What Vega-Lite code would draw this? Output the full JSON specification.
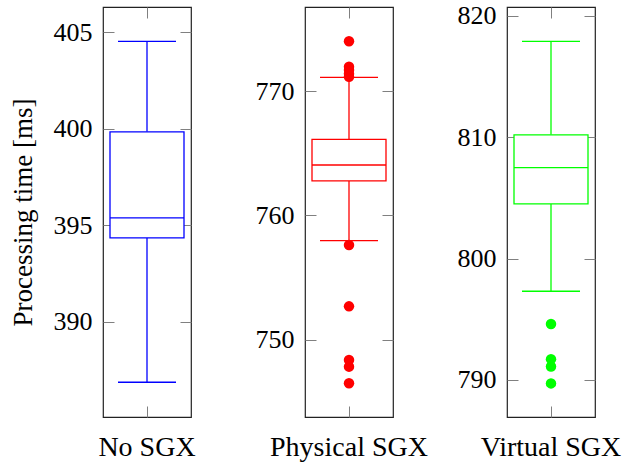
{
  "$schema": "https://vega.github.io/schema/vega-lite/v6.json",
  "autosize": {"type": "pad"},
  "padding": {"left": 8, "top": 2, "right": 4, "bottom": 2},
  "bounds": "flush",
  "spacing": 114,
  "config": {
    "view": {"stroke": "#222222", "strokeWidth": 1.2},
    "axis": {
      "grid": false, "domain": false,
      "tickColor": "#808080", "tickWidth": 1, "tickSize": -11,
      "labelFont": "'Liberation Serif', 'DejaVu Serif', serif", "labelFontSize": 26, "labelColor": "black",
      "titleFont": "'Liberation Serif', 'DejaVu Serif', serif", "titleFontSize": 27, "titleFontWeight": "normal", "titleColor": "black"
    }
  },
  "datasets": {
    "stats": [
      {"group": "No SGX", "lower": 386.86, "q1": 394.34, "median": 395.38, "q3": 399.84, "upper": 404.53},
      {"group": "Physical SGX", "lower": 757.96, "q1": 762.77, "median": 764.05, "q3": 766.11, "upper": 771.1},
      {"group": "Virtual SGX", "lower": 797.3, "q1": 804.5, "median": 807.5, "q3": 810.2, "upper": 817.9}
    ],
    "outliers": [
      {"group": "Physical SGX", "value": 774.0},
      {"group": "Physical SGX", "value": 771.95},
      {"group": "Physical SGX", "value": 771.7},
      {"group": "Physical SGX", "value": 771.4},
      {"group": "Physical SGX", "value": 771.15},
      {"group": "Physical SGX", "value": 757.62},
      {"group": "Physical SGX", "value": 752.68},
      {"group": "Physical SGX", "value": 748.37},
      {"group": "Physical SGX", "value": 747.83},
      {"group": "Physical SGX", "value": 746.5},
      {"group": "Virtual SGX", "value": 794.6},
      {"group": "Virtual SGX", "value": 791.7},
      {"group": "Virtual SGX", "value": 791.1},
      {"group": "Virtual SGX", "value": 789.7}
    ]
  },
  "hconcat": [
    {
      "width": 88, "height": 410,
      "layer": [
        {
          "encoding": {"x": {"field": "group", "type": "nominal", "title": null, "scale": {"paddingInner": 0, "paddingOuter": 0}, "axis": {"orient": "bottom", "labelAngle": 0, "labelPadding": 27, "labelFontSize": 28}}},
          "layer": [
            {"data": {"name": "stats"}, "transform": [{"filter": "datum.group === 'No SGX'"}], "mark": {"type": "rule", "color": "#0000ff", "strokeWidth": 1.3},
             "encoding": {"y": {"field": "q3", "type": "quantitative", "title": "Processing time [ms]", "scale": {"domain": [385.06, 406.31], "nice": false, "zero": false}, "axis": {"orient": "left", "values": [390, 395, 400, 405], "labelPadding": 22, "titlePadding": 16}}, "y2": {"field": "upper"}}},
            {"data": {"name": "stats"}, "transform": [{"filter": "datum.group === 'No SGX'"}], "mark": {"type": "rule", "color": "#0000ff", "strokeWidth": 1.3},
             "encoding": {"y": {"field": "q1", "type": "quantitative", "title": "Processing time [ms]"}, "y2": {"field": "lower"}}},
            {"data": {"name": "stats"}, "transform": [{"filter": "datum.group === 'No SGX'"}], "mark": {"type": "bar", "width": 74, "fill": "white", "stroke": "#0000ff", "strokeWidth": 1.3},
             "encoding": {"y": {"field": "q1", "type": "quantitative", "title": "Processing time [ms]"}, "y2": {"field": "q3"}}},
            {"data": {"name": "stats"}, "transform": [{"filter": "datum.group === 'No SGX'"}], "mark": {"type": "tick", "size": 74, "thickness": 1.3, "color": "#0000ff", "opacity": 1},
             "encoding": {"y": {"field": "median", "type": "quantitative", "title": "Processing time [ms]"}}},
            {"data": {"name": "stats"}, "transform": [{"filter": "datum.group === 'No SGX'"}], "mark": {"type": "tick", "size": 58, "thickness": 1.3, "color": "#0000ff", "opacity": 1},
             "encoding": {"y": {"field": "upper", "type": "quantitative", "title": "Processing time [ms]"}}},
            {"data": {"name": "stats"}, "transform": [{"filter": "datum.group === 'No SGX'"}], "mark": {"type": "tick", "size": 58, "thickness": 1.3, "color": "#0000ff", "opacity": 1},
             "encoding": {"y": {"field": "lower", "type": "quantitative", "title": "Processing time [ms]"}}}
          ]
        },
        {
          "data": {"name": "stats"}, "transform": [{"filter": "datum.group === 'No SGX'"}],
          "mark": {"type": "point", "opacity": 0},
          "encoding": {
            "x": {"field": "group", "type": "nominal", "title": null, "scale": {"paddingInner": 0, "paddingOuter": 0}, "axis": {"orient": "top", "labels": false}},
            "y": {"field": "median", "type": "quantitative", "title": null, "scale": {"domain": [385.06, 406.31], "nice": false, "zero": false}, "axis": {"orient": "right", "labels": false, "values": [390, 395, 400, 405]}}
          }
        }
      ],
      "resolve": {"scale": {"x": "independent", "y": "independent"}}
    },
    {
      "width": 88, "height": 410,
      "layer": [
        {
          "encoding": {"x": {"field": "group", "type": "nominal", "title": null, "scale": {"paddingInner": 0, "paddingOuter": 0}, "axis": {"orient": "bottom", "labelAngle": 0, "labelPadding": 27, "labelFontSize": 28}}},
          "layer": [
            {"data": {"name": "stats"}, "transform": [{"filter": "datum.group === 'Physical SGX'"}], "mark": {"type": "rule", "color": "#ff0000", "strokeWidth": 1.3},
             "encoding": {"y": {"field": "q3", "type": "quantitative", "title": null, "scale": {"domain": [743.78, 776.76], "nice": false, "zero": false}, "axis": {"orient": "left", "values": [750, 760, 770], "labelPadding": 22}}, "y2": {"field": "upper"}}},
            {"data": {"name": "stats"}, "transform": [{"filter": "datum.group === 'Physical SGX'"}], "mark": {"type": "rule", "color": "#ff0000", "strokeWidth": 1.3},
             "encoding": {"y": {"field": "q1", "type": "quantitative", "title": null}, "y2": {"field": "lower"}}},
            {"data": {"name": "stats"}, "transform": [{"filter": "datum.group === 'Physical SGX'"}], "mark": {"type": "bar", "width": 74, "fill": "white", "stroke": "#ff0000", "strokeWidth": 1.3},
             "encoding": {"y": {"field": "q1", "type": "quantitative", "title": null}, "y2": {"field": "q3"}}},
            {"data": {"name": "stats"}, "transform": [{"filter": "datum.group === 'Physical SGX'"}], "mark": {"type": "tick", "size": 74, "thickness": 1.3, "color": "#ff0000", "opacity": 1},
             "encoding": {"y": {"field": "median", "type": "quantitative", "title": null}}},
            {"data": {"name": "stats"}, "transform": [{"filter": "datum.group === 'Physical SGX'"}], "mark": {"type": "tick", "size": 58, "thickness": 1.3, "color": "#ff0000", "opacity": 1},
             "encoding": {"y": {"field": "upper", "type": "quantitative", "title": null}}},
            {"data": {"name": "stats"}, "transform": [{"filter": "datum.group === 'Physical SGX'"}], "mark": {"type": "tick", "size": 58, "thickness": 1.3, "color": "#ff0000", "opacity": 1},
             "encoding": {"y": {"field": "lower", "type": "quantitative", "title": null}}},
            {"data": {"name": "outliers"}, "transform": [{"filter": "datum.group === 'Physical SGX'"}], "mark": {"type": "circle", "size": 110, "color": "#ff0000", "opacity": 1},
             "encoding": {"y": {"field": "value", "type": "quantitative", "title": null}}}
          ]
        },
        {
          "data": {"name": "stats"}, "transform": [{"filter": "datum.group === 'Physical SGX'"}],
          "mark": {"type": "point", "opacity": 0},
          "encoding": {
            "x": {"field": "group", "type": "nominal", "title": null, "scale": {"paddingInner": 0, "paddingOuter": 0}, "axis": {"orient": "top", "labels": false}},
            "y": {"field": "median", "type": "quantitative", "title": null, "scale": {"domain": [743.78, 776.76], "nice": false, "zero": false}, "axis": {"orient": "right", "labels": false, "values": [750, 760, 770]}}
          }
        }
      ],
      "resolve": {"scale": {"x": "independent", "y": "independent"}}
    },
    {
      "width": 88, "height": 410,
      "layer": [
        {
          "encoding": {"x": {"field": "group", "type": "nominal", "title": null, "scale": {"paddingInner": 0, "paddingOuter": 0}, "axis": {"orient": "bottom", "labelAngle": 0, "labelPadding": 27, "labelFontSize": 28}}},
          "layer": [
            {"data": {"name": "stats"}, "transform": [{"filter": "datum.group === 'Virtual SGX'"}], "mark": {"type": "rule", "color": "#00ff00", "strokeWidth": 1.3},
             "encoding": {"y": {"field": "q3", "type": "quantitative", "title": null, "scale": {"domain": [786.93, 820.74], "nice": false, "zero": false}, "axis": {"orient": "left", "values": [790, 800, 810, 820], "labelPadding": 22}}, "y2": {"field": "upper"}}},
            {"data": {"name": "stats"}, "transform": [{"filter": "datum.group === 'Virtual SGX'"}], "mark": {"type": "rule", "color": "#00ff00", "strokeWidth": 1.3},
             "encoding": {"y": {"field": "q1", "type": "quantitative", "title": null}, "y2": {"field": "lower"}}},
            {"data": {"name": "stats"}, "transform": [{"filter": "datum.group === 'Virtual SGX'"}], "mark": {"type": "bar", "width": 74, "fill": "white", "stroke": "#00ff00", "strokeWidth": 1.3},
             "encoding": {"y": {"field": "q1", "type": "quantitative", "title": null}, "y2": {"field": "q3"}}},
            {"data": {"name": "stats"}, "transform": [{"filter": "datum.group === 'Virtual SGX'"}], "mark": {"type": "tick", "size": 74, "thickness": 1.3, "color": "#00ff00", "opacity": 1},
             "encoding": {"y": {"field": "median", "type": "quantitative", "title": null}}},
            {"data": {"name": "stats"}, "transform": [{"filter": "datum.group === 'Virtual SGX'"}], "mark": {"type": "tick", "size": 58, "thickness": 1.3, "color": "#00ff00", "opacity": 1},
             "encoding": {"y": {"field": "upper", "type": "quantitative", "title": null}}},
            {"data": {"name": "stats"}, "transform": [{"filter": "datum.group === 'Virtual SGX'"}], "mark": {"type": "tick", "size": 58, "thickness": 1.3, "color": "#00ff00", "opacity": 1},
             "encoding": {"y": {"field": "lower", "type": "quantitative", "title": null}}},
            {"data": {"name": "outliers"}, "transform": [{"filter": "datum.group === 'Virtual SGX'"}], "mark": {"type": "circle", "size": 110, "color": "#00ff00", "opacity": 1},
             "encoding": {"y": {"field": "value", "type": "quantitative", "title": null}}}
          ]
        },
        {
          "data": {"name": "stats"}, "transform": [{"filter": "datum.group === 'Virtual SGX'"}],
          "mark": {"type": "point", "opacity": 0},
          "encoding": {
            "x": {"field": "group", "type": "nominal", "title": null, "scale": {"paddingInner": 0, "paddingOuter": 0}, "axis": {"orient": "top", "labels": false}},
            "y": {"field": "median", "type": "quantitative", "title": null, "scale": {"domain": [786.93, 820.74], "nice": false, "zero": false}, "axis": {"orient": "right", "labels": false, "values": [790, 800, 810, 820]}}
          }
        }
      ],
      "resolve": {"scale": {"x": "independent", "y": "independent"}}
    }
  ]
}
